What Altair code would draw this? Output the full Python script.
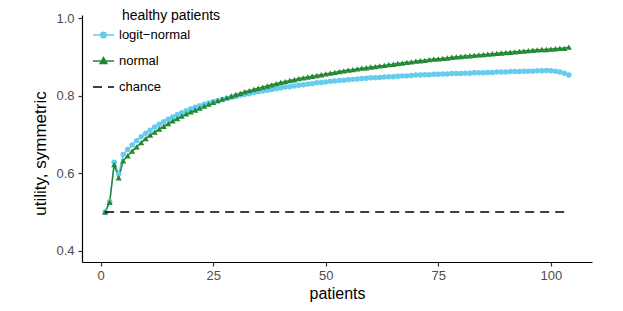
import altair as alt
import pandas as pd

# ---------------- data ----------------
patients = list(range(1, 105))

logit_normal = [
    0.500, 0.527, 0.628, 0.598, 0.648, 0.661, 0.673, 0.684, 0.694, 0.703,
    0.711, 0.719, 0.726, 0.733, 0.739, 0.745, 0.751, 0.756, 0.761, 0.766,
    0.770, 0.774, 0.778, 0.781, 0.784, 0.787, 0.790, 0.793, 0.796, 0.798,
    0.801, 0.803, 0.805, 0.808, 0.810, 0.812, 0.814, 0.816, 0.818, 0.820,
    0.822, 0.823, 0.825, 0.827, 0.828, 0.830, 0.831, 0.833, 0.834, 0.835,
    0.837, 0.838, 0.839, 0.840, 0.841, 0.842, 0.843, 0.844, 0.845, 0.846,
    0.846, 0.847, 0.848, 0.849, 0.849, 0.850, 0.851, 0.851, 0.852, 0.853,
    0.853, 0.854, 0.854, 0.855, 0.855, 0.856, 0.856, 0.857, 0.857, 0.857,
    0.858, 0.858, 0.859, 0.859, 0.859, 0.860, 0.860, 0.861, 0.861, 0.861,
    0.862, 0.862, 0.862, 0.863, 0.863, 0.863, 0.864, 0.864, 0.865, 0.864,
    0.863, 0.861, 0.858, 0.853,
]

normal = [
    0.500, 0.525, 0.622, 0.588, 0.632, 0.645, 0.657, 0.668, 0.679, 0.689,
    0.698, 0.706, 0.714, 0.721, 0.728, 0.735, 0.741, 0.747, 0.753, 0.758,
    0.763, 0.768, 0.773, 0.778, 0.783, 0.787, 0.791, 0.795, 0.799, 0.803,
    0.806, 0.810, 0.813, 0.816, 0.819, 0.822, 0.825, 0.828, 0.831, 0.834,
    0.836, 0.839, 0.841, 0.844, 0.846, 0.848, 0.850, 0.852, 0.854, 0.856,
    0.858, 0.860, 0.862, 0.864, 0.866, 0.867, 0.869, 0.871, 0.872, 0.874,
    0.875, 0.877, 0.878, 0.880, 0.881, 0.883, 0.884, 0.886, 0.887, 0.889,
    0.890, 0.891, 0.893, 0.894, 0.895, 0.896, 0.897, 0.899, 0.900, 0.901,
    0.902, 0.903, 0.904, 0.905, 0.906, 0.907, 0.908, 0.909, 0.910, 0.911,
    0.912, 0.913, 0.914, 0.915, 0.916, 0.917, 0.918, 0.919, 0.919, 0.920,
    0.921, 0.922, 0.922, 0.925,
]

chance_x = [1, 104]
chance_y = [0.5, 0.5]

series_names = ["logit\u2212normal", "normal", "chance"]
series_colors = ["#66CCEE", "#228833", "#000000"]
legend_title = "healthy patients"
x_ticks = [0, 25, 50, 75, 100]
y_ticks = [0.4, 0.6, 0.8, 1.0]

# ---------------- tables ----------------
df = pd.concat([
    pd.DataFrame({"patients": patients, "utility": logit_normal, "series": series_names[0]}),
    pd.DataFrame({"patients": patients, "utility": normal, "series": series_names[1]}),
], ignore_index=True)
df_chance = pd.DataFrame({"patients": chance_x, "utility": chance_y, "series": series_names[2]})
df_all = pd.concat([df, df_chance], ignore_index=True)

FONT = "Liberation Sans"

x_enc = alt.X(
    "patients:Q",
    scale=alt.Scale(domain=[-4.15, 109.15], nice=False, zero=False),
    axis=alt.Axis(values=x_ticks, title="patients", labelPadding=3,
                  titleY=36, titleBaseline="alphabetic"),
)
y_enc = alt.Y(
    "utility:Q",
    scale=alt.Scale(domain=[0.371, 1.008], nice=False, zero=False),
    axis=alt.Axis(values=y_ticks, format=".1f", title="utility, symmetric",
                  labelPadding=4, titleX=-42, titleY=138, titleFontSize=17,
                  titleBaseline="middle"),
)

color_scale = alt.Scale(domain=series_names[:2], range=series_colors[:2])

lines = alt.Chart(df).mark_line(strokeWidth=1.5).encode(
    x=x_enc, y=y_enc,
    color=alt.Color("series:N", scale=color_scale, legend=None),
    detail="series:N",
)

pts_logit = alt.Chart(df).transform_filter(
    alt.datum.series == series_names[0]
).mark_point(shape="circle", filled=True, size=30, opacity=1).encode(
    x=x_enc, y=y_enc,
    color=alt.Color("series:N", scale=color_scale, legend=None),
)

pts_normal = alt.Chart(df).transform_filter(
    alt.datum.series == series_names[1]
).mark_point(shape="triangle-up", filled=True, size=38, opacity=1).encode(
    x=x_enc, y=y_enc,
    color=alt.Color("series:N", scale=color_scale, legend=None),
)

chance_line = alt.Chart(df_chance).mark_line(
    color="black", strokeWidth=1.5, strokeDash=[9, 6]
).encode(x=x_enc, y=y_enc)

# legend symbols: line segment with marker
circ = ("M-1,0L1,0M0.27,0C0.27,0.149,0.149,0.27,0,0.27C-0.149,0.27,-0.27,0.149,-0.27,0"
        "C-0.27,-0.149,-0.149,-0.27,0,-0.27C0.149,-0.27,0.27,-0.149,0.27,0Z")
tri = "M-1,0L1,0M0,-0.33L0.32,0.24L-0.32,0.24Z"
seg = "M-1,0L1,0"

leg = alt.Legend(
    title=None, orient="none", legendX=10, legendY=8.5,
    symbolSize=441, symbolStrokeWidth=1.5, symbolOpacity=1,
    labelFont=FONT, labelFontSize=13, labelColor="black", labelOffset=4,
    rowPadding=7, padding=0,
)

legend_layer = alt.Chart(df_all).mark_point(opacity=0, filled=True).encode(
    x=x_enc, y=y_enc,
    fill=alt.Fill("series:N", scale=alt.Scale(domain=series_names, range=series_colors), legend=leg),
    stroke=alt.Stroke("series:N", scale=alt.Scale(domain=series_names, range=series_colors), legend=leg),
    shape=alt.Shape("series:N", scale=alt.Scale(domain=series_names, range=[circ, tri, seg]), legend=leg),
    strokeDash=alt.StrokeDash("series:N", scale=alt.Scale(domain=series_names, range=[[1, 0], [1, 0], [9, 6]]), legend=leg),
)

title_text = alt.Chart(pd.DataFrame({"t": [legend_title]})).mark_text(
    align="left", baseline="alphabetic", font=FONT, fontSize=14, color="black"
).encode(x=alt.value(40), y=alt.value(4.5), text="t:N")

chart = alt.layer(
    legend_layer, lines, pts_logit, pts_normal, chance_line, title_text
).properties(
    width=510, height=247, autosize="none",
    padding={"left": 74, "top": 7, "right": 23, "bottom": 41},
).configure_view(stroke=None).configure_axis(
    grid=False, domainColor="black", domainWidth=1.2,
    tickColor="#333333", tickWidth=1.2, tickSize=4,
    labelFont=FONT, labelFontSize=13, labelColor="#4D4D4D",
    titleFont=FONT, titleFontSize=16, titleFontWeight="normal", titleColor="black",
)

chart.save("out.html", embed_options={"renderer": "svg", "actions": False})
